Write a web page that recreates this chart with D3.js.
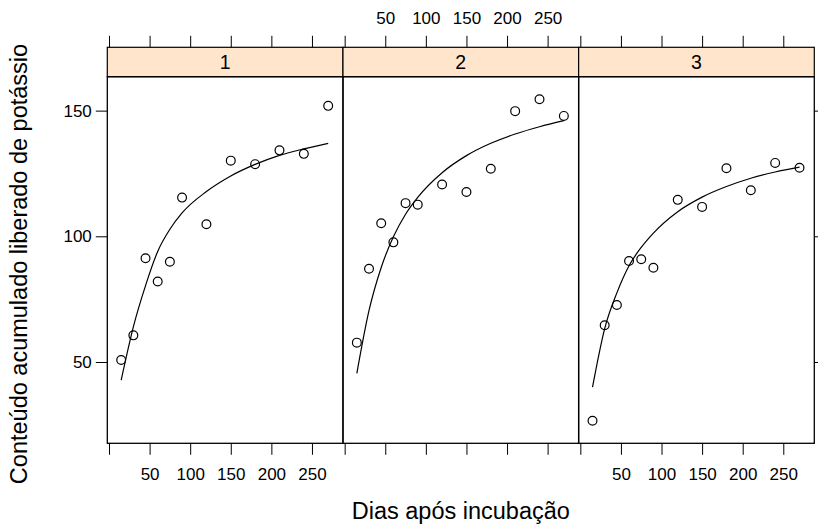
<!DOCTYPE html>
<html>
<head>
<meta charset="utf-8">
<script src="https://cdn.jsdelivr.net/npm/d3@7"></script>
<style>
  body { margin: 0; background: #fff; }
  svg { display: block; font-family: "Liberation Sans", Arial, Helvetica, sans-serif; }
</style>
</head>
<body>
<svg id="chart" width="818" height="528"></svg>
<script>
// ---- data ----
const panels = ["1", "2", "3"];
const days = [15, 30, 45, 60, 75, 90, 120, 150, 180, 210, 240, 270];
const potassium1 = [50.8, 60.6, 91.3, 82.0, 89.9, 115.4, 104.8, 130.1, 128.7, 134.2, 132.8, 151.9];
const potassium2 = [57.7, 87.1, 105.2, 97.6, 113.2, 112.6, 120.6, 117.6, 126.9, 149.8, 154.5, 147.9];
const potassium3 = [26.6, 64.6, 72.7, 90.2, 90.9, 87.5, 114.5, 111.7, 127.1, 118.3, 129.2, 127.3];
// fitted curve at these days
const curveDays = [15, 30, 45, 60, 75, 90, 120, 150, 180, 210, 240, 270];
const fit1 = [42.8, 64.0, 80.4, 94.0, 102.8, 109.3, 117.8, 124.0, 128.6, 132.2, 134.8, 137.0];
const fit2 = [45.5, 70.5, 87.6, 99.8, 108.8, 115.5, 125.3, 132.1, 137.0, 140.7, 143.6, 146.0];
const fit3 = [40.0, 63.3, 77.5, 88.3, 95.6, 101.3, 109.8, 115.6, 119.8, 123.1, 125.6, 127.5];
const xTicks = [0, 50, 100, 150, 200, 250];
const yTicks = [50, 100, 150];
const xTitle = "Dias após incubação";
const yTitle = "Conteúdo acumulado liberado de potássio";

const seriesObs = [potassium1, potassium2, potassium3];
const seriesFit = [fit1, fit2, fit3];

// ---- layout ----
const svg = d3.select("#chart");
const plotLeft = 107.3, plotRight = 814.3;
const panelW = (plotRight - plotLeft) / 3;
const stripTop = 47.3, panelTop = 76.7, panelBottom = 443.3;
const tickLen = 11.5;
const tickFont = 17;
const titleFont = 23.5;

const y = d3.scaleLinear().domain([17.65, 163.5]).range([panelBottom, panelTop]);

panels.forEach((p, i) => {
  const left = plotLeft + i * panelW;
  const x = d3.scaleLinear().domain([-2.1, 288.2]).range([left, left + panelW]);
  const g = svg.append("g");

  // strip
  g.append("rect").attr("x", left).attr("y", stripTop).attr("width", panelW)
    .attr("height", panelTop - stripTop).attr("fill", "#ffe5cc")
    .attr("stroke", "#000").attr("stroke-width", 1.2);
  g.append("text").attr("x", left + panelW / 2).attr("y", (stripTop + panelTop) / 2)
    .attr("dy", "0.36em").attr("text-anchor", "middle").attr("font-size", 19.5)
    .attr("fill", "#000").text(p);

  // panel border
  g.append("rect").attr("x", left).attr("y", panelTop).attr("width", panelW)
    .attr("height", panelBottom - panelTop).attr("fill", "none")
    .attr("stroke", "#000").attr("stroke-width", 1.3);

  // bottom axis
  const showBottom = (i !== 1);
  const ab = d3.axisBottom(x).tickValues(xTicks).tickSize(tickLen).tickPadding(13)
    .tickFormat(d => (showBottom && d !== 0) ? d : "");
  const gb = g.append("g").attr("transform", `translate(0,${panelBottom})`).call(ab);
  // top axis (above strip)
  const at = d3.axisTop(x).tickValues(xTicks).tickSize(tickLen).tickPadding(11.5)
    .tickFormat(d => (!showBottom && d !== 0) ? d : "");
  const gt = g.append("g").attr("transform", `translate(0,${stripTop})`).call(at);
  [gb, gt].forEach(a => {
    a.select(".domain").remove();
    a.selectAll("line").attr("stroke", "#000").attr("stroke-width", 1);
    a.selectAll("text").attr("font-size", tickFont).attr("fill", "#000")
      .attr("font-family", "'Liberation Sans', Arial, sans-serif");
  });

  // y axes
  if (i === 0) {
    const al = d3.axisLeft(y).tickValues(yTicks).tickSize(tickLen).tickPadding(4);
    const gl = g.append("g").attr("transform", `translate(${left},0)`).call(al);
    gl.select(".domain").remove();
    gl.selectAll("line").attr("stroke", "#000").attr("stroke-width", 1);
    gl.selectAll("text").attr("font-size", tickFont).attr("fill", "#000")
      .attr("font-family", "'Liberation Sans', Arial, sans-serif");
  }
  if (i === 2) {
    const ar = d3.axisRight(y).tickValues(yTicks).tickSize(tickLen).tickFormat("");
    const gr = g.append("g").attr("transform", `translate(${left + panelW},0)`).call(ar);
    gr.select(".domain").remove();
    gr.selectAll("line").attr("stroke", "#000").attr("stroke-width", 1);
  }

  // fitted curve
  const fit = seriesFit[i];
  const line = d3.line().x((d, k) => x(curveDays[k])).y(d => y(d)).curve(d3.curveMonotoneX);
  g.append("path").datum(fit).attr("d", line).attr("fill", "none")
    .attr("stroke", "#000").attr("stroke-width", 1.2);

  // points
  g.selectAll("circle.pt").data(seriesObs[i]).enter().append("circle")
    .attr("class", "pt")
    .attr("cx", (d, k) => x(days[k])).attr("cy", d => y(d)).attr("r", 4.4)
    .attr("fill", "none").attr("stroke", "#000").attr("stroke-width", 1.2);
});

// titles
svg.append("text").attr("x", (plotLeft + plotRight) / 2).attr("y", 511)
  .attr("dy", "0.36em").attr("text-anchor", "middle").attr("font-size", titleFont)
  .attr("fill", "#000").text(xTitle);
svg.append("text").attr("transform", `translate(19,${(panelTop + panelBottom) / 2 + 4}) rotate(-90)`)
  .attr("dy", "0.36em").attr("text-anchor", "middle").attr("font-size", titleFont)
  .attr("fill", "#000").text(yTitle);
</script>
</body>
</html>
